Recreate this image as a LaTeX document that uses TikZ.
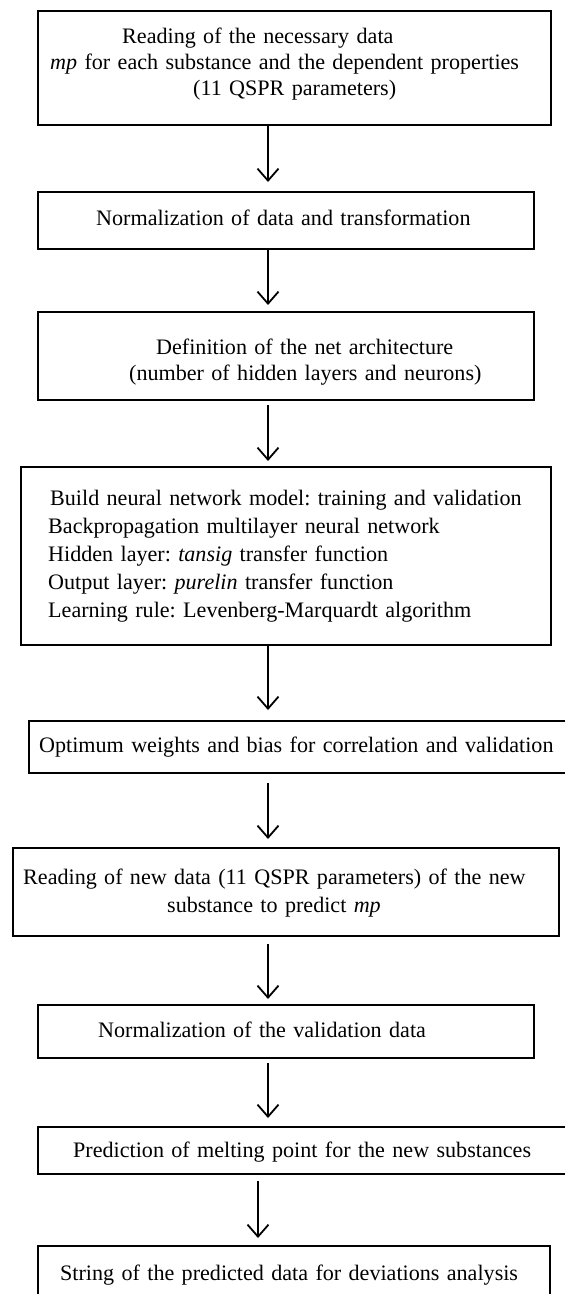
\documentclass[tikz,border=0pt]{standalone}
\usepackage{fontspec}
\setmainfont{Liberation Serif}
\frenchspacing
\usetikzlibrary{arrows.meta}
\begin{document}
\begin{tikzpicture}[x=0.5pt,y=-0.5pt,
  stepbox/.style={draw,line width=1.2pt,anchor=north west,inner sep=0pt,align=left,font=\fontsize{11.05}{14}\selectfont},
  flow/.style={line width=0.9pt,-{Straight Barb[length=6pt,width=10.5pt]}}]
\useasboundingbox (0,0) rectangle (565,1294);
\coordinate (ax) at (268,0);
\coordinate (bx) at (258,0);

%reading and preparing data
\node (read) at (37,10) [stepbox,text width=256.5pt,text height=16pt,text depth=41pt,font=\fontsize{11.05}{13}\selectfont]
  {\hspace*{42pt}Reading of the necessary data\\
   \hspace*{6pt}\textit{mp} for each substance and the dependent properties\\
   \hspace*{77.5pt}(11 QSPR parameters)};
\node (norm) at (37,191) [stepbox,text width=248pt,text height=16.5pt,text depth=12pt]
  {\hspace*{29pt}Normalization of data and transformation};
\node (arch) at (37,311) [stepbox,text width=248pt,text height=21pt,text depth=23pt,font=\fontsize{11.05}{13}\selectfont]
  {\hspace*{59pt}Definition of the net architecture\\
   \hspace*{45.5pt}(number of hidden layers and neurons)};

%model
\node (model) at (20,466) [stepbox,text width=265pt,text height=19pt,text depth=70pt]
  {\hspace*{14.5pt}Build neural network model: training and validation\\
   \hspace*{13.5pt}Backpropagation multilayer neural network\\
   \hspace*{13.5pt}Hidden layer: \textit{tansig} transfer function\\
   \hspace*{13.5pt}Output layer: \textit{purelin} transfer function\\
   \hspace*{13.5pt}Learning rule: Levenberg-Marquardt algorithm};
\node (optw) at (28,720) [stepbox,text width=271pt,text height=15.5pt,text depth=10.5pt]
  {\hspace*{5pt}Optimum weights and bias for correlation and validation};

%prediction
\node (newdata) at (12,847) [stepbox,text width=273pt,text height=18pt,text depth=26pt]
  {\hspace*{5pt}Reading of new data (11 QSPR parameters) of the new\\
   \hspace*{77pt}substance to predict \textit{mp}};
\node (normval) at (37,1004) [stepbox,text width=248pt,text height=16pt,text depth=10.5pt]
  {\hspace*{30pt}Normalization of the validation data};
\node (pred) at (37,1126) [stepbox,text width=266.5pt,text height=15pt,text depth=8.5pt]
  {\hspace*{17.5pt}Prediction of melting point for the new substances};
\node (dev) at (37,1245) [stepbox,text width=256pt,text height=17pt,text depth=10.5pt]
  {\hspace*{11pt}String of the predicted data for deviations analysis};

%arrows
\draw[flow] (read.south -| ax) -- ([yshift=4.5pt]norm.north -| ax);
\draw[flow] (norm.south -| ax) -- ([yshift=3pt]arch.north -| ax);
\draw[flow] ([yshift=-2pt]arch.south -| ax) -- ([yshift=2.5pt]model.north -| ax);
\draw[flow] (model.south -| ax) -- ([yshift=5pt]optw.north -| ax);
\draw[flow] ([yshift=-4.5pt]optw.south -| ax) -- ([yshift=4pt]newdata.north -| ax);
\draw[flow] ([yshift=-3.5pt]newdata.south -| ax) -- ([yshift=2.5pt]normval.north -| ax);
\draw[flow] ([yshift=-2pt]normval.south -| ax) -- ([yshift=4pt]pred.north -| ax);
\draw[flow] ([yshift=-3pt]pred.south -| bx) -- ([yshift=3.5pt]dev.north -| bx);
\end{tikzpicture}
\end{document}
